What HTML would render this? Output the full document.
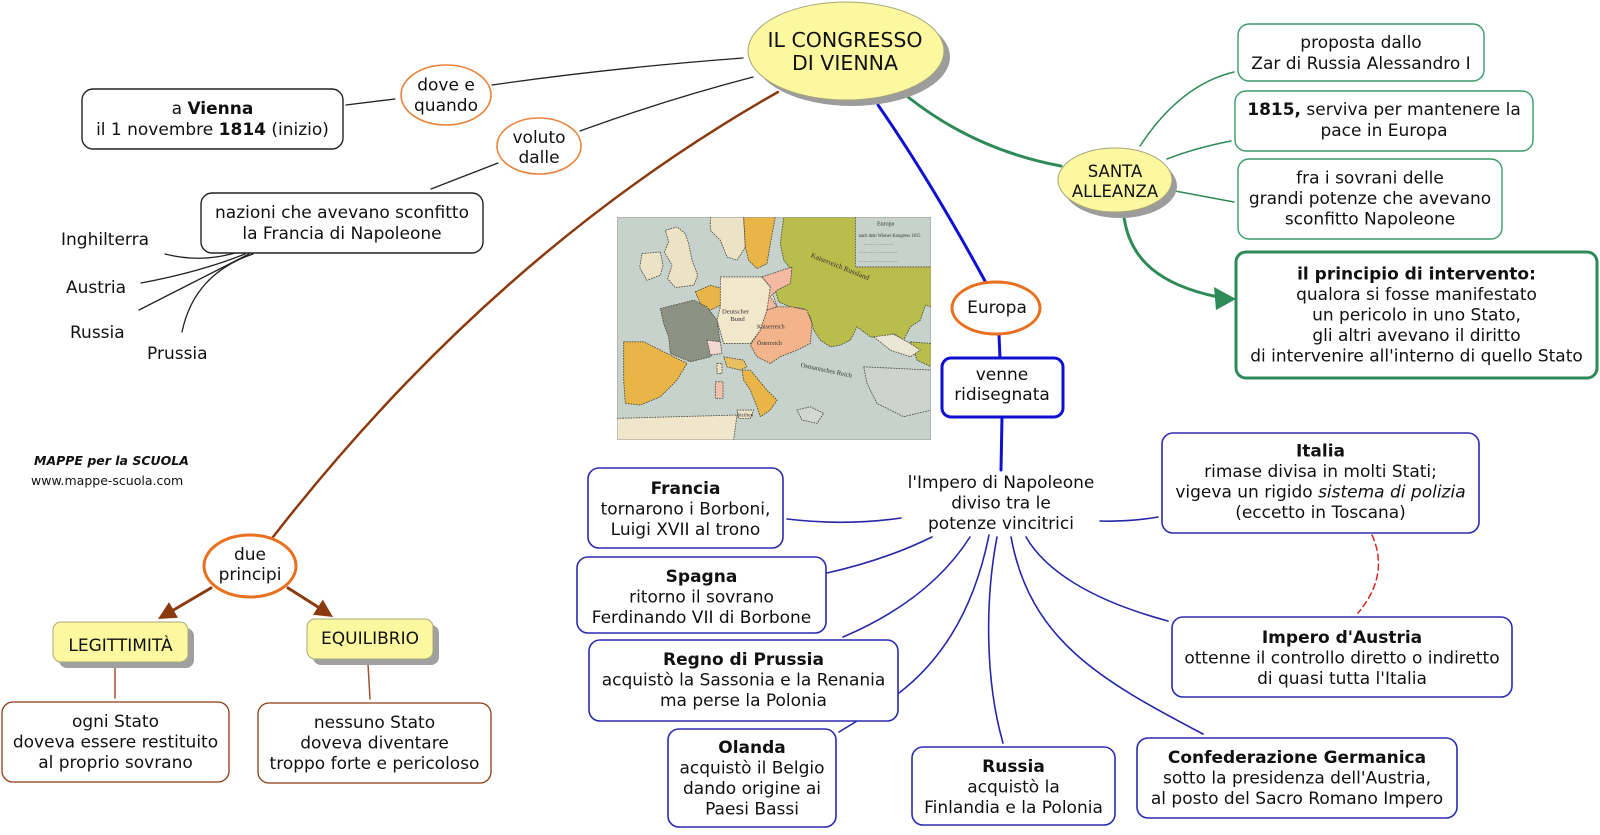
<!DOCTYPE html>
<html>
<head>
<meta charset="utf-8">
<style>
html,body{margin:0;padding:0;background:#fff;}
body{width:1600px;height:830px;overflow:hidden;}
svg text{font-family:"DejaVu Sans","Liberation Sans",sans-serif;fill:#111;}
.t17{font-size:17px;}
.b{font-weight:bold;}
</style>
</head>
<body>
<svg width="1600" height="830" viewBox="0 0 1600 830" xmlns="http://www.w3.org/2000/svg">
<rect width="1600" height="830" fill="#fff"/>

<!-- ============ CONNECTORS ============ -->
<g fill="none" stroke-linecap="round">
  <path d="M346,105 L395,99" stroke="#222" stroke-width="1.3"/>
  <path d="M492,85 Q610,68 743,58" stroke="#222" stroke-width="1.3"/>
  <path d="M431,189 L498,163" stroke="#222" stroke-width="1.3"/>
  <path d="M580,131 Q665,100 753,77" stroke="#222" stroke-width="1.3"/>
  <path d="M165,254 Q200,263 235,253" stroke="#222" stroke-width="1.3"/>
  <path d="M141,283 Q200,272 245,254" stroke="#222" stroke-width="1.3"/>
  <path d="M139,310 Q190,284 249,254" stroke="#222" stroke-width="1.3"/>
  <path d="M182,332 Q194,274 253,254" stroke="#222" stroke-width="1.3"/>

  <path d="M778,92 Q494,253 273,537" stroke="#8b3a0e" stroke-width="2.5"/>
  <path d="M211,588 L173.5,610" stroke="#8b3a0e" stroke-width="3"/>
  <path d="M288,588 L318,607" stroke="#8b3a0e" stroke-width="3"/>
  <path d="M115,667 L115,698" stroke="#a0522d" stroke-width="1.5"/>
  <path d="M368,664 L370,699" stroke="#a0522d" stroke-width="1.5"/>

  <path d="M878,105 Q930,180 985,281" stroke="#1010d0" stroke-width="3"/>
  <path d="M999,335 L1000,358" stroke="#1010d0" stroke-width="3"/>
  <path d="M1002,417 L1001,470" stroke="#1010d0" stroke-width="3"/>

  <g stroke="#2626a8" stroke-width="1.6">
    <path d="M787,519 Q846,526 901,518"/>
    <path d="M1100,521 Q1130,522 1158,517"/>
    <path d="M827,573 Q885,560 932,537"/>
    <path d="M970,537 Q930,600 843,637"/>
    <path d="M989,535 Q968,640 899,693"/>
    <path d="M997,537 C985,600 985,680 1003,743"/>
    <path d="M1011,537 C1030,640 1100,680 1203,734"/>
    <path d="M1026,537 C1045,570 1090,600 1168,621"/>
    <path d="M839,732 L857,721"/>
  </g>

  <path d="M1372,535 Q1390,575 1358,613" stroke="#d42525" stroke-width="1.5" stroke-dasharray="6,4"/>

  <path d="M908,97 Q975,150 1061,166" stroke="#2e8b57" stroke-width="3"/>
  <path d="M1140,146 Q1180,85 1234,72" stroke="#2e8b57" stroke-width="1.5"/>
  <path d="M1167,159 Q1195,148 1231,141" stroke="#2e8b57" stroke-width="1.5"/>
  <path d="M1175,191 L1234,202" stroke="#2e8b57" stroke-width="1.5"/>
  <path d="M1124,217 C1130,260 1160,285 1218,297" stroke="#2e8b57" stroke-width="3"/>
</g>
<polygon points="158,619 178,617.7 169,602.1" fill="#8b3a0e"/>
<polygon points="333,617 313,614.8 322.8,599.6" fill="#8b3a0e"/>
<polygon points="1236,299 1214,287 1216,310" fill="#2e8b57"/>

<!-- ============ MAP IMAGE ============ -->
<svg x="617" y="217" width="314" height="223" viewBox="20 20 942 670" preserveAspectRatio="none">
  <rect x="20" y="20" width="942" height="670" fill="#c6d2cb"/>
  <g stroke="#4a4a40" stroke-width="2.5" stroke-dasharray="5,3" stroke-linejoin="round">
  <polygon points="300,20 400,20 405,110 380,150 350,140 330,90 300,60" fill="#ece2c6"/>
  <polygon points="400,20 495,20 480,100 470,160 440,175 415,150 405,110" fill="#e9b546"/>
  <polygon points="520,20 735,20 735,170 962,170 962,290 945,285 930,330 900,350 880,390 850,370 820,385 780,380 740,350 720,390 690,405 660,410 630,390 610,360 600,320 580,295 540,290 505,275 495,240 530,220 545,180 520,150 510,100" fill="#b9bd4c"/>
  <polygon points="900,395 962,400 962,470 920,450" fill="#b9bd4c"/>
  <polygon points="790,380 850,372 900,400 930,420 900,440 840,420" fill="#ece6d6"/>
  <polygon points="165,60 200,50 225,70 235,100 245,150 262,195 250,225 195,232 172,205 185,165 162,125 175,95" fill="#ece2c6"/>
  <polygon points="95,130 150,125 158,165 150,195 110,210 88,172" fill="#ece2c6"/>
  <polygon points="255,245 300,225 335,235 340,280 300,300 275,290" fill="#e9b546"/>
  <polygon points="330,200 455,200 480,230 500,290 470,300 450,360 420,400 340,400 320,330 330,290" fill="#f1e7cb"/>
  <polygon points="455,200 545,170 540,220 500,240 480,260 500,290 470,300 480,230" fill="#f3b9a3"/>
  <polygon points="470,300 500,290 545,290 590,300 605,340 600,400 560,420 510,440 480,460 440,440 420,405 450,360" fill="#f3b48c"/>
  <polygon points="150,295 250,270 290,290 320,330 330,400 300,440 240,455 180,430 175,380 160,340" fill="#8e9283"/>
  <polygon points="290,390 330,395 335,430 300,435" fill="#f0d8d0"/>
  <polygon points="40,395 100,395 170,430 230,460 200,510 150,560 90,585 45,580 40,510" fill="#e9b546"/>
  <polygon points="340,440 400,450 410,470 390,480 350,470" fill="#e9c060"/>
  <polygon points="395,480 420,480 470,540 500,570 480,600 450,620 440,590 420,540 400,510" fill="#e9b546"/>
  <polygon points="380,600 430,600 420,625 385,625" fill="#ece2c6"/>
  <polygon points="315,515 338,515 338,565 315,565" fill="#f1bfb0"/>
  <polygon points="320,460 335,460 335,490 320,490" fill="#ece2c6"/>
  <polygon points="20,625 200,620 380,615 370,690 20,690" fill="#efe6cc"/>
  <polygon points="560,600 600,590 640,610 620,640 575,630" fill="#d0d8cf"/>
  <polygon points="760,470 962,480 962,600 880,620 800,580 770,520" fill="#ccd5cd"/>
  </g>
  <g>
    <text x="600" y="140" font-size="22" transform="rotate(22 600 140)" style="fill:#333;font-family:'Liberation Serif',serif">Kaiserreich Russland</text>
    <text x="335" y="310" font-size="20" style="fill:#333;font-family:'Liberation Serif',serif">Deutscher</text>
    <text x="360" y="332" font-size="20" style="fill:#333;font-family:'Liberation Serif',serif">Bund</text>
    <text x="440" y="355" font-size="18" style="fill:#333;font-family:'Liberation Serif',serif">Kaiserreich</text>
    <text x="440" y="405" font-size="18" style="fill:#333;font-family:'Liberation Serif',serif">Österreich</text>
    <text x="570" y="470" font-size="20" transform="rotate(12 570 470)" style="fill:#333;font-family:'Liberation Serif',serif">Osmanisches Reich</text>
    <text x="800" y="45" font-size="18" style="fill:#333;font-family:'Liberation Serif',serif">Europa</text>
    <text x="745" y="80" font-size="14" style="fill:#333;font-family:'Liberation Serif',serif">nach dem Wiener Kongress 1815</text>
    <text x="760" y="105" font-size="12" style="fill:#555;font-family:'Liberation Serif',serif">— — — — — —</text>
    <text x="745" y="130" font-size="12" style="fill:#555;font-family:'Liberation Serif',serif">— — — — — — — —</text>
    <text x="745" y="155" font-size="12" style="fill:#555;font-family:'Liberation Serif',serif">— — — — — — — —</text>
    <text x="380" y="620" font-size="16" style="fill:#333;font-family:'Liberation Serif',serif">Sizilien</text>
  </g>
  <rect x="20" y="20" width="942" height="670" fill="none" stroke="#999" stroke-width="3"/>
</svg>

<!-- ============ NODES ============ -->
<ellipse cx="852" cy="57" rx="98" ry="49" fill="#9c9c9c"/>
<ellipse cx="846" cy="51" rx="98" ry="49" fill="#fbf8a0" stroke="#a5a57a" stroke-width="1"/>
<text x="845" y="47" text-anchor="middle" style="font-size:20.5px">IL CONGRESSO</text>
<text x="845" y="70" text-anchor="middle" style="font-size:20.5px">DI VIENNA</text>

<ellipse cx="1120" cy="186" rx="57" ry="32" fill="#9c9c9c"/>
<ellipse cx="1115" cy="180" rx="57" ry="32" fill="#fbf8a0" stroke="#a5a57a" stroke-width="1"/>
<text class="t17" x="1115" y="177" text-anchor="middle" style="font-size:16.5px">SANTA</text>
<text class="t17" x="1115" y="197" text-anchor="middle" style="font-size:16.5px">ALLEANZA</text>

<rect x="82" y="89" width="261" height="60" rx="11" fill="#fff" stroke="#222" stroke-width="1.4"/>
<text class="t17" x="212.5" y="114" text-anchor="middle">a <tspan class="b">Vienna</tspan></text>
<text class="t17" x="212.5" y="135" text-anchor="middle">il 1 novembre <tspan class="b">1814</tspan> (inizio)</text>

<rect x="201" y="193" width="282" height="60" rx="11" fill="#fff" stroke="#222" stroke-width="1.4"/>
<text class="t17" x="342" y="218" text-anchor="middle">nazioni che avevano sconfitto</text>
<text class="t17" x="342" y="239" text-anchor="middle">la Francia di Napoleone</text>

<text class="t17" x="61" y="245">Inghilterra</text>
<text class="t17" x="66" y="293">Austria</text>
<text class="t17" x="70" y="338">Russia</text>
<text class="t17" x="147" y="359">Prussia</text>

<ellipse cx="446" cy="95" rx="45" ry="30" fill="#fff" stroke="#e8833a" stroke-width="1.6"/>
<text class="t17" x="446" y="90.5" text-anchor="middle">dove e</text>
<text class="t17" x="446" y="111" text-anchor="middle">quando</text>

<ellipse cx="539" cy="146" rx="42" ry="28" fill="#fff" stroke="#e8833a" stroke-width="1.6"/>
<text class="t17" x="539" y="143" text-anchor="middle">voluto</text>
<text class="t17" x="539" y="163" text-anchor="middle">dalle</text>

<ellipse cx="996" cy="308" rx="44" ry="26" fill="#fff" stroke="#e8701e" stroke-width="3"/>
<text class="t17" x="997" y="313" text-anchor="middle">Europa</text>

<ellipse cx="250" cy="566" rx="46" ry="31" fill="#fff" stroke="#e8701e" stroke-width="3"/>
<text class="t17" x="250" y="560" text-anchor="middle">due</text>
<text class="t17" x="250" y="580" text-anchor="middle">principi</text>

<text x="34" y="465" style="font-size:12.5px;font-weight:bold;font-style:italic">MAPPE per la SCUOLA</text>
<text x="31" y="485" style="font-size:12.5px">www.mappe-scuola.com</text>

<rect x="59" y="628" width="135" height="40" rx="8" fill="#a0a0a0"/>
<rect x="53" y="622" width="135" height="40" rx="8" fill="#fbf8a0" stroke="#a8a878" stroke-width="1"/>
<text class="t17" x="120.5" y="651" text-anchor="middle">LEGITTIMITÀ</text>

<rect x="313" y="625" width="126" height="40" rx="8" fill="#a0a0a0"/>
<rect x="307" y="619" width="126" height="40" rx="8" fill="#fbf8a0" stroke="#a8a878" stroke-width="1"/>
<text class="t17" x="370" y="644" text-anchor="middle">EQUILIBRIO</text>

<rect x="2" y="702" width="227" height="80" rx="11" fill="#fff" stroke="#8b3a10" stroke-width="1.3"/>
<text class="t17" x="115.5" y="727" text-anchor="middle">ogni Stato</text>
<text class="t17" x="115.5" y="747.5" text-anchor="middle">doveva essere restituito</text>
<text class="t17" x="115.5" y="768" text-anchor="middle">al proprio sovrano</text>

<rect x="258" y="703" width="233" height="80" rx="11" fill="#fff" stroke="#8b3a10" stroke-width="1.3"/>
<text class="t17" x="374.5" y="728" text-anchor="middle">nessuno Stato</text>
<text class="t17" x="374.5" y="748.5" text-anchor="middle">doveva diventare</text>
<text class="t17" x="374.5" y="769" text-anchor="middle">troppo forte e pericoloso</text>

<rect x="942" y="358" width="121" height="59" rx="9" fill="#fff" stroke="#1010d0" stroke-width="3"/>
<text class="t17" x="1002" y="380" text-anchor="middle">venne</text>
<text class="t17" x="1002" y="400" text-anchor="middle">ridisegnata</text>

<text class="t17" x="1001" y="488" text-anchor="middle">l'Impero di Napoleone</text>
<text class="t17" x="1001" y="508.5" text-anchor="middle">diviso tra le</text>
<text class="t17" x="1001" y="529" text-anchor="middle">potenze vincitrici</text>

<g fill="#fff" stroke="#2a2ab0" stroke-width="1.6">
  <rect x="588" y="468" width="195" height="80" rx="11"/>
  <rect x="577" y="557" width="249" height="76" rx="11"/>
  <rect x="589" y="640" width="309" height="81" rx="11"/>
  <rect x="668" y="729" width="168" height="98" rx="11"/>
  <rect x="912" y="747" width="203" height="78" rx="11"/>
  <rect x="1162" y="433" width="317" height="100" rx="11"/>
  <rect x="1172" y="617" width="340" height="80" rx="11"/>
  <rect x="1137" y="738" width="320" height="80" rx="11"/>
</g>

<text class="t17 b" x="685.5" y="494" text-anchor="middle">Francia</text>
<text class="t17" x="685.5" y="514.5" text-anchor="middle">tornarono i Borboni,</text>
<text class="t17" x="685.5" y="535" text-anchor="middle">Luigi XVII al trono</text>

<text class="t17 b" x="701.5" y="582" text-anchor="middle">Spagna</text>
<text class="t17" x="701.5" y="602.5" text-anchor="middle">ritorno il sovrano</text>
<text class="t17" x="701.5" y="623" text-anchor="middle">Ferdinando VII di Borbone</text>

<text class="t17 b" x="743.5" y="665" text-anchor="middle">Regno di Prussia</text>
<text class="t17" x="743.5" y="685.5" text-anchor="middle">acquistò la Sassonia e la Renania</text>
<text class="t17" x="743.5" y="706" text-anchor="middle">ma perse la Polonia</text>

<text class="t17 b" x="752" y="753" text-anchor="middle">Olanda</text>
<text class="t17" x="752" y="773.5" text-anchor="middle">acquistò il Belgio</text>
<text class="t17" x="752" y="794" text-anchor="middle">dando origine ai</text>
<text class="t17" x="752" y="814.5" text-anchor="middle">Paesi Bassi</text>

<text class="t17 b" x="1013.5" y="772" text-anchor="middle">Russia</text>
<text class="t17" x="1013.5" y="792.5" text-anchor="middle">acquistò la</text>
<text class="t17" x="1013.5" y="813" text-anchor="middle">Finlandia e la Polonia</text>

<text class="t17 b" x="1320.5" y="456.5" text-anchor="middle">Italia</text>
<text class="t17" x="1320.5" y="477" text-anchor="middle">rimase divisa in molti Stati;</text>
<text class="t17" x="1320.5" y="497.5" text-anchor="middle">vigeva un rigido <tspan font-style="italic">sistema di polizia</tspan></text>
<text class="t17" x="1320.5" y="518" text-anchor="middle">(eccetto in Toscana)</text>

<text class="t17 b" x="1342" y="643" text-anchor="middle">Impero d'Austria</text>
<text class="t17" x="1342" y="663.5" text-anchor="middle">ottenne il controllo diretto o indiretto</text>
<text class="t17" x="1342" y="684" text-anchor="middle">di quasi tutta l'Italia</text>

<text class="t17 b" x="1297" y="763" text-anchor="middle">Confederazione Germanica</text>
<text class="t17" x="1297" y="783.5" text-anchor="middle">sotto la presidenza dell'Austria,</text>
<text class="t17" x="1297" y="804" text-anchor="middle">al posto del Sacro Romano Impero</text>

<g fill="#fff" stroke="#3a9a6a" stroke-width="1.4">
  <rect x="1238" y="24" width="246" height="57" rx="11"/>
  <rect x="1235" y="91" width="298" height="60" rx="11"/>
  <rect x="1238" y="159" width="264" height="80" rx="11"/>
</g>
<rect x="1236" y="252" width="361" height="126" rx="10" fill="#fff" stroke="#2e8b57" stroke-width="3"/>

<text class="t17" x="1361" y="48" text-anchor="middle">proposta dallo</text>
<text class="t17" x="1361" y="69" text-anchor="middle">Zar di Russia Alessandro I</text>

<text class="t17" x="1384" y="115" text-anchor="middle"><tspan class="b">1815,</tspan> serviva per mantenere la</text>
<text class="t17" x="1384" y="136" text-anchor="middle">pace in Europa</text>

<text class="t17" x="1370" y="183.5" text-anchor="middle">fra i sovrani delle</text>
<text class="t17" x="1370" y="204" text-anchor="middle">grandi potenze che avevano</text>
<text class="t17" x="1370" y="224.5" text-anchor="middle">sconfitto Napoleone</text>

<text class="t17 b" x="1416.5" y="279.5" text-anchor="middle">il principio di intervento:</text>
<text class="t17" x="1416.5" y="300" text-anchor="middle">qualora si fosse manifestato</text>
<text class="t17" x="1416.5" y="320.5" text-anchor="middle">un pericolo in uno Stato,</text>
<text class="t17" x="1416.5" y="341" text-anchor="middle">gli altri avevano il diritto</text>
<text class="t17" x="1416.5" y="361.5" text-anchor="middle">di intervenire all'interno di quello Stato</text>

</svg>
</body>
</html>
